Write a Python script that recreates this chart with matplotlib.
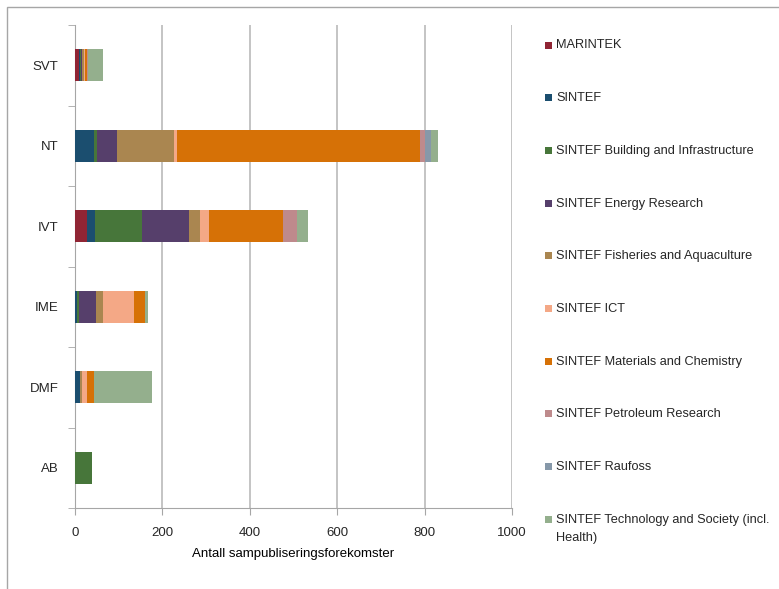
import numpy as np
import matplotlib
matplotlib.use('Agg')
import matplotlib.pyplot as plt
from matplotlib.patches import Rectangle

plt.rcParams['font.family'] = ['Liberation Sans', 'DejaVu Sans']
plt.rcParams['text.color'] = '#262626'
plt.rcParams['xtick.labelcolor'] = '#262626'
plt.rcParams['ytick.labelcolor'] = '#262626'

# categories, top to bottom
categories = ['SVT', 'NT', 'IVT', 'IME', 'DMF', 'AB']

institutes = ['MARINTEK', 'SINTEF', 'SINTEF Building and Infrastructure',
              'SINTEF Energy Research', 'SINTEF Fisheries and Aquaculture',
              'SINTEF ICT', 'SINTEF Materials and Chemistry',
              'SINTEF Petroleum Research', 'SINTEF Raufoss',
              'SINTEF Technology and Society (incl.\nHealth)']

# values per institute, in category order SVT, NT, IVT, IME, DMF, AB
marintek   = [10, 0, 28, 0, 0, 0]
sintef     = [2, 44, 18, 5, 11, 0]
building   = [1, 7, 108, 4, 1, 40]
energy     = [2, 46, 108, 38, 0, 0]
fisheries  = [5, 129, 24, 18, 4, 0]
ict        = [4, 7, 21, 69, 12, 0]
materials  = [4, 557, 168, 27, 16, 0]
petroleum  = [1, 10, 34, 0, 0, 0]
raufoss    = [0, 15, 0, 0, 0, 0]
technology = [34, 15, 24, 6, 132, 0]

series = [marintek, sintef, building, energy, fisheries, ict, materials,
          petroleum, raufoss, technology]
colors = ['#902534', '#1B4E6F', '#47763A', '#563F6B', '#AA8650',
          '#F4A886', '#D67106', '#BE8A8C', '#8698A9', '#94AF8D']

fig = plt.figure(figsize=(7.79, 5.89), dpi=100)
W, H = 779, 589
ax = fig.add_axes([75 / W, 1 - 508 / H, (512 - 75) / W, (508 - 25) / H])

# outer chart border
fig.patches.append(Rectangle((7 / W, -0.1), 1.2, 1.1 - 7 / H,
                             transform=fig.transFigure, fill=False,
                             edgecolor='#A6A6A6', linewidth=1.0))

y = np.arange(len(categories))
left = np.zeros(len(categories))
for vals, col in zip(series, colors):
    ax.barh(y, vals, left=left, height=0.4, color=col, linewidth=0, zorder=3)
    left += np.array(vals)

ax.set_xlim(0, 1000)
ax.set_ylim(len(categories) - 0.5, -0.5)
ax.set_xticks(np.arange(0, 1001, 200))
ax.set_yticks(y)
ax.set_yticklabels(categories)
ax.set_yticks(np.arange(-0.5, len(categories), 1), minor=True)
ax.tick_params(axis='y', which='major', length=0, labelsize=9.5, pad=12)
ax.tick_params(axis='y', which='minor', length=5, color='#A6A6A6')
ax.tick_params(axis='x', length=5, color='#A6A6A6', labelsize=9.5, pad=9)
ax.grid(axis='x', color='#BFBFBF', linewidth=1.3, zorder=0)
for s in ['top', 'right']:
    ax.spines[s].set_visible(False)
for s in ['left', 'bottom']:
    ax.spines[s].set_color('#A6A6A6')
ax.set_xlabel('Antall sampubliseringsforekomster', fontsize=9.5, labelpad=6)

# legend drawn by hand so the two-line entry lines up with its first line
for i, (name, col) in enumerate(zip(institutes, colors)):
    yc = 45 + i * 52.7
    fig.patches.append(Rectangle((545 / W, 1 - (yc + 3.5) / H), 7 / W, 7 / H,
                                 transform=fig.transFigure,
                                 facecolor=col, edgecolor='none'))
    fig.text(556 / W, 1 - (yc - 5.5) / H, name, fontsize=9.2, va='top',
             ha='left', linespacing=1.7)

fig.savefig('out.png', dpi=100)
